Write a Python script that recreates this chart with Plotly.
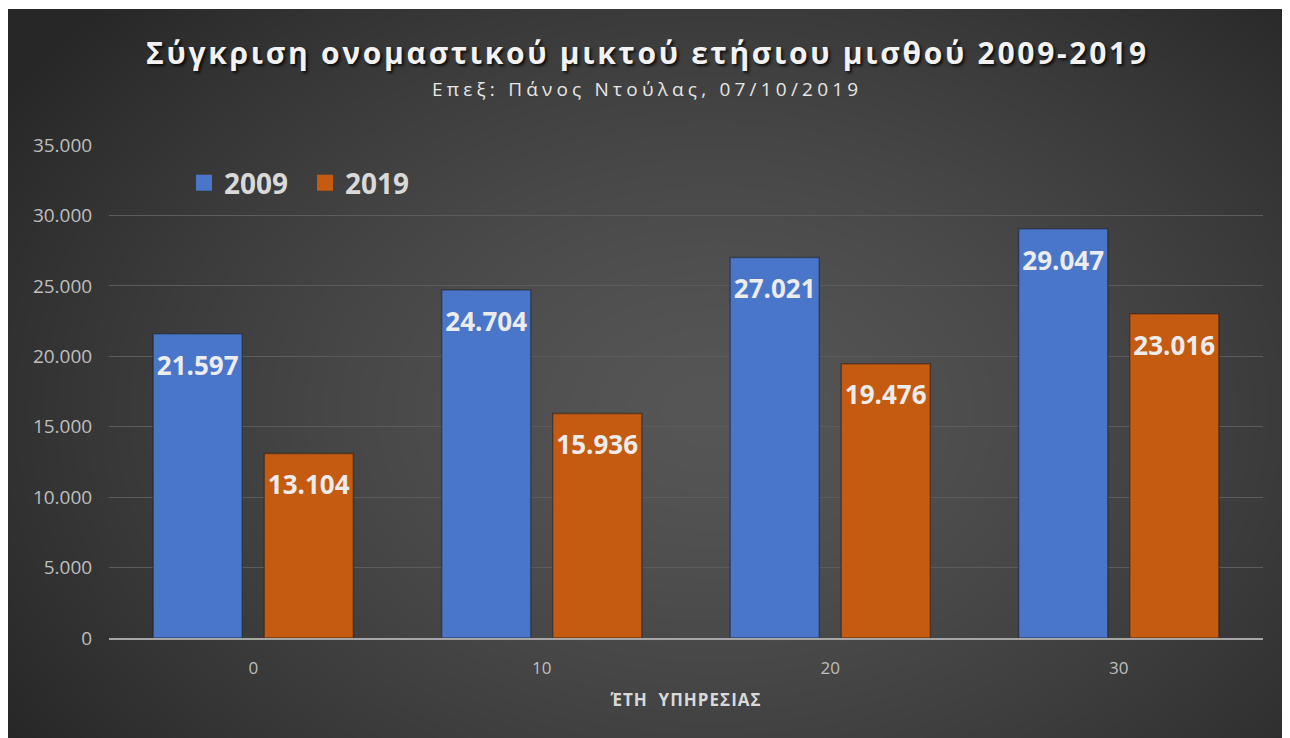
import base64, struct, zlib
import numpy as np
import plotly.graph_objects as go

# ---- data ----
categories = ["0", "10", "20", "30"]
series_names = ["2009", "2019"]
values_2009 = [21597, 24704, 27021, 29047]
values_2019 = [13104, 15936, 19476, 23016]
series_colors = ["#4a76ca", "#c55a11"]
y_tick_vals = [0, 5000, 10000, 15000, 20000, 25000, 30000, 35000]

title_text = "Σύγκριση ονομαστικού μικτού ετήσιου μισθού 2009-2019"
subtitle_text = "Επεξ: Πάνος Ντούλας, 07/10/2019"
x_title_text = "ΈΤΗ  ΥΠΗΡΕΣΙΑΣ"

# ---- layout geometry (page is offset by the 8px body margin) ----
OFF = 8
W, H = 1290 - OFF, 738 - OFF
plot_l, plot_r, plot_t, plot_b = 109 - OFF, 1263 - OFF, 145 - OFF, 638 - OFF
ML, MR, MT, MB = plot_l, W - plot_r, plot_t, H - plot_b
PW, PH = plot_r - plot_l, plot_b - plot_t
bg_top = 9 - OFF


def px(page_x):
    return (page_x - OFF - plot_l) / PW


def py(page_y):
    return (plot_b - (page_y - OFF)) / PH


def png_uri(arr):
    h, w, _ = arr.shape
    raw = b"".join(b"\x00" + arr[i].tobytes() for i in range(h))

    def chunk(t, d):
        return struct.pack(">I", len(d)) + t + d + struct.pack(">I", zlib.crc32(t + d) & 0xFFFFFFFF)

    png = (b"\x89PNG\r\n\x1a\n"
           + chunk(b"IHDR", struct.pack(">IIBBBBB", w, h, 8, 2, 0, 0, 0))
           + chunk(b"IDAT", zlib.compress(raw, 9))
           + chunk(b"IEND", b""))
    return "data:image/png;base64," + base64.b64encode(png).decode()


gw, gh = W // 2, (H - bg_top) // 2
yy, xx = np.mgrid[0:gh, 0:gw].astype(float)
cx, cy = gw * 0.55, gh * 0.55
d = np.sqrt(((xx - cx) / (gw * 0.66)) ** 2 + ((yy - cy) / (gh * 0.82)) ** 2)
d = np.clip(d, 0, 1)
val = 86 - 47 * d ** 1.4
img = np.repeat(np.clip(val, 0, 255).astype(np.uint8)[:, :, None], 3, axis=2)
bg_uri = png_uri(img)

label_tpl = '<span style="font-size:4px">\u00a0</span><br>%{y:,}'
label_font = dict(family="Open Sans", size=26, color="#ececec", weight="bold")

fig = go.Figure()
for name, vals, col in zip(series_names, [values_2009, values_2019], series_colors):
    fig.add_trace(go.Bar(
        x=categories, y=vals, name=name, showlegend=False, legendgroup=name,
        marker=dict(color=col, line=dict(color="rgba(25,25,25,0.45)", width=1.5)),
        texttemplate=label_tpl, textposition="inside", insidetextanchor="end",
        textfont=label_font, textangle=0, hoverinfo="x+y+name",
    ))
# legend entries (square swatches)
for name, col in zip(series_names, series_colors):
    fig.add_trace(go.Scatter(
        x=[None], y=[None], name=name, legendgroup=name, mode="markers",
        marker=dict(symbol="square", size=16, color=col),
    ))

fig.update_layout(
    width=W, height=H,
    margin=dict(l=ML, r=MR, t=MT, b=MB, autoexpand=False),
    paper_bgcolor="white", plot_bgcolor="rgba(0,0,0,0)",
    separators=",.",
    barmode="group", bargap=0.23, bargroupgap=0.198,
    font=dict(family="Open Sans", color="#bfbfbf"),
    showlegend=True,
    legend=dict(
        orientation="h", x=px(184), y=py(158),
        xanchor="left", yanchor="top", bgcolor="rgba(0,0,0,0)",
        font=dict(family="Open Sans", size=28, color="#d9d9d9", weight="bold"),
        itemwidth=30, itemsizing="trace", traceorder="normal",
        entrywidth=76, entrywidthmode="pixels",
    ),
    images=[dict(
        source=bg_uri, xref="paper", yref="paper",
        x=-plot_l / PW, y=(plot_b - bg_top) / PH,
        sizex=W / PW, sizey=(H - bg_top) / PH,
        xanchor="left", yanchor="top", sizing="stretch", layer="below",
    )],
    annotations=[
        dict(text=f'<span style="letter-spacing:2.7px">{title_text}</span>',
             xref="paper", yref="paper", x=px(647), y=py(52),
             xanchor="center", yanchor="middle", showarrow=False,
             font=dict(family="Open Sans", size=30, color="#f2f2f2", weight="bold",
                       shadow="2px 2px 3px rgba(0,0,0,0.8)")),
        dict(text=f'<span style="letter-spacing:4.2px">{subtitle_text}</span>',
             xref="paper", yref="paper", x=px(647), y=py(89),
             xanchor="center", yanchor="middle", showarrow=False,
             font=dict(family="Open Sans", size=19, color="#e6e6e6")),
    ],
    xaxis=dict(
        type="category", showgrid=False, showline=True, linecolor="#a6a6a6", linewidth=2,
        ticks="outside", ticklen=14, tickcolor="rgba(0,0,0,0)",
        tickfont=dict(family="Open Sans", size=17, color="#bfbfbf"),
        title=dict(text=f'<span style="letter-spacing:1px">{x_title_text}</span>', standoff=16,
                   font=dict(family="Open Sans", size=17, color="#d9d9d9", weight="bold")),
    ),
    yaxis=dict(
        range=[0, 35000], tickvals=y_tick_vals, tickformat=",d",
        showgrid=True, gridcolor="#5c5c5c", gridwidth=1,
        zeroline=False, showline=False,
        ticks="outside", ticklen=12, tickcolor="rgba(0,0,0,0)",
        tickfont=dict(family="Open Sans", size=19, color="#bfbfbf"),
    ),
)

fig.write_html("out.html", post_script="document.body.style.overflow='hidden';")
